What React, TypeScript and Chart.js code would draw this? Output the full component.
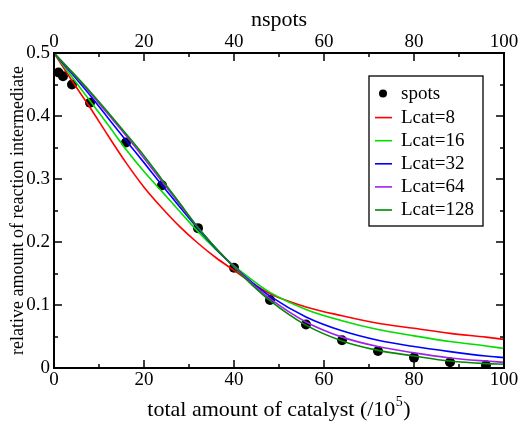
import React, { useEffect, useRef } from 'react';
import { Chart, registerables } from 'chart.js';

Chart.register(...registerables);

const SERIF = '"Liberation Serif", "Times New Roman", Times, serif';

// spots (simulation points)
const SPOT_X = [1, 2, 4, 8, 16, 24, 32, 40, 48, 56, 64, 72, 80, 88, 96];
const SPOT_Y = [0.469, 0.463, 0.45, 0.421, 0.358, 0.29, 0.222, 0.159, 0.108, 0.069, 0.044, 0.027, 0.0165, 0.009, 0.0045];

// model curves
const CURVE_X = [0, 4, 8, 12, 16, 20, 24, 28, 32, 36, 40, 44, 48, 56, 64, 72, 80, 88, 96, 100];
const LCAT8 = [0.5, 0.456, 0.4135, 0.369, 0.326, 0.287, 0.254, 0.224, 0.198, 0.175, 0.155, 0.135, 0.118, 0.097, 0.083, 0.071, 0.063, 0.055, 0.049, 0.0455];
const LCAT16 = [0.5, 0.462, 0.424, 0.386, 0.347, 0.312, 0.28, 0.248, 0.2165, 0.188, 0.162, 0.14, 0.12, 0.093, 0.075, 0.061, 0.051, 0.042, 0.035, 0.031];
const LCAT32 = [0.5, 0.467, 0.433, 0.397, 0.361, 0.326, 0.29, 0.255, 0.221, 0.189, 0.161, 0.136, 0.114, 0.081, 0.059, 0.044, 0.034, 0.026, 0.019, 0.0165];
const LCAT64 = [0.5, 0.469, 0.437, 0.403, 0.369, 0.333, 0.296, 0.259, 0.223, 0.19, 0.161, 0.134, 0.11, 0.073, 0.049, 0.034, 0.024, 0.016, 0.011, 0.009];
const LCAT128 = [0.5, 0.47, 0.439, 0.406, 0.372, 0.337, 0.299, 0.261, 0.223, 0.19, 0.16, 0.132, 0.107, 0.068, 0.043, 0.028, 0.019, 0.011, 0.007, 0.006];

const SERIES_LABELS = ['spots', 'Lcat=8', 'Lcat=16', 'Lcat=32', 'Lcat=64', 'Lcat=128'];
const SERIES_COLORS = ['#000000', '#ff0000', '#00dd00', '#0000ff', '#a020f0', '#008b00'];

// axes
const X_MAJOR = [0, 20, 40, 60, 80, 100];
const X_MINOR = [10, 30, 50, 70, 90];
const X_TICK_LABELS = ['0', '20', '40', '60', '80', '100'];
const Y_MAJOR = [0, 0.1, 0.2, 0.3, 0.4, 0.5];
const Y_MINOR = [0.05, 0.15, 0.25, 0.35, 0.45];
const Y_TICK_LABELS = ['0', '0.1', '0.2', '0.3', '0.4', '0.5'];

const X_TITLE_MAIN = 'total amount of catalyst (/10';
const X_TITLE_SUP = '5';
const X_TITLE_END = ')';
const X2_TITLE = 'nspots';
const Y_TITLE = 'relative amount of reaction intermediate';

const zip = (xs: number[], ys: number[]) => xs.map((x, i) => ({ x, y: ys[i] }));

const framePlugin = {
  id: 'frameAndLegend',
  afterDraw(chart: any) {
    const { ctx, chartArea } = chart;
    const { left, right, top, bottom } = chartArea;
    const xs = chart.scales.x;
    const ys = chart.scales.y;
    ctx.save();
    ctx.strokeStyle = '#000';
    ctx.lineWidth = 2;
    ctx.strokeRect(left, top, right - left, bottom - top);
    ctx.lineWidth = 1.5;
    const seg = (x1: number, y1: number, x2: number, y2: number) => {
      ctx.beginPath();
      ctx.moveTo(x1, y1);
      ctx.lineTo(x2, y2);
      ctx.stroke();
    };
    const xt = (v: number, len: number) => {
      const p = Math.round(xs.getPixelForValue(v));
      seg(p, bottom, p, bottom - len);
      seg(p, top, p, top + len);
    };
    const yt = (v: number, len: number) => {
      const p = Math.round(ys.getPixelForValue(v));
      seg(left, p, left + len, p);
      seg(right, p, right - len, p);
    };
    X_MAJOR.forEach((v) => xt(v, 8));
    X_MINOR.forEach((v) => xt(v, 4));
    Y_MAJOR.forEach((v) => yt(v, 8));
    Y_MINOR.forEach((v) => yt(v, 4));

    // bottom axis title with superscript
    ctx.fillStyle = '#000';
    ctx.textBaseline = 'alphabetic';
    ctx.textAlign = 'left';
    const mainFont = `22px ${SERIF}`;
    const supFont = `14px ${SERIF}`;
    ctx.font = mainFont;
    const w1 = ctx.measureText(X_TITLE_MAIN).width;
    const w3 = ctx.measureText(X_TITLE_END).width;
    ctx.font = supFont;
    const w2 = ctx.measureText(X_TITLE_SUP).width;
    const total = w1 + w2 + w3 + 1;
    const cx = (left + right) / 2;
    const base = bottom + 48;
    let tx = cx - total / 2;
    ctx.font = mainFont;
    ctx.fillText(X_TITLE_MAIN, tx, base);
    tx += w1 + 0.5;
    ctx.font = supFont;
    ctx.fillText(X_TITLE_SUP, tx, base - 10.5);
    tx += w2 + 0.5;
    ctx.font = mainFont;
    ctx.fillText(X_TITLE_END, tx, base);

    // legend
    const lx = left + 315;
    const ly = top + 23;
    const lw = 114;
    const lh = 150;
    ctx.fillStyle = '#fff';
    ctx.fillRect(lx, ly, lw, lh);
    ctx.lineWidth = 1.3;
    ctx.strokeStyle = '#000';
    ctx.strokeRect(lx, ly, lw, lh);
    ctx.font = `19px ${SERIF}`;
    ctx.textBaseline = 'middle';
    ctx.textAlign = 'left';
    chart.data.datasets.forEach((ds: any, i: number) => {
      const cy = ly + 18.5 + i * 23.1;
      if (ds.showLine === false) {
        ctx.fillStyle = ds.backgroundColor;
        ctx.beginPath();
        ctx.arc(lx + 14, cy - 1, 4, 0, Math.PI * 2);
        ctx.fill();
      } else {
        ctx.strokeStyle = ds.borderColor;
        ctx.lineWidth = 1.6;
        seg(lx + 6, cy, lx + 23, cy);
      }
      ctx.fillStyle = '#000';
      ctx.fillText(ds.label, lx + 32, cy);
    });
    ctx.restore();
  },
};

export default function App() {
  const ref = useRef<HTMLCanvasElement | null>(null);
  useEffect(() => {
    if (!ref.current) return;
    const curves = [LCAT8, LCAT16, LCAT32, LCAT64, LCAT128];
    const datasets: any[] = [
      {
        label: SERIES_LABELS[0],
        data: zip(SPOT_X, SPOT_Y),
        showLine: false,
        pointRadius: 5,
        pointBackgroundColor: SERIES_COLORS[0],
        pointBorderWidth: 0,
        backgroundColor: SERIES_COLORS[0],
        borderColor: SERIES_COLORS[0],
        order: 10,
      },
      ...curves.map((c, i) => ({
        label: SERIES_LABELS[i + 1],
        data: zip(CURVE_X, c),
        showLine: true,
        pointRadius: 0,
        borderWidth: 1.6,
        borderColor: SERIES_COLORS[i + 1],
        backgroundColor: SERIES_COLORS[i + 1],
        cubicInterpolationMode: 'monotone',
        fill: false,
        order: 5 - i,
      })),
    ];
    const tickFont = { family: SERIF, size: 19, lineHeight: 1 };
    const chart = new Chart(ref.current, {
      type: 'scatter',
      data: { datasets },
      plugins: [framePlugin],
      options: {
        animation: false,
        responsive: false,
        devicePixelRatio: 1,
        layout: { padding: { left: 0, right: 17, top: 0, bottom: 0 } },
        plugins: { legend: { display: false }, tooltip: { enabled: false } },
        scales: {
          x: {
            type: 'linear',
            position: 'bottom',
            min: 0,
            max: 100,
            afterBuildTicks: (s: any) => {
              s.ticks = X_MAJOR.map((v) => ({ value: v }));
            },
            afterFit: (s: any) => {
              s.height = 53;
            },
            grid: { display: false, drawTicks: false },
            border: { display: false },
            ticks: {
              font: tickFont,
              color: '#000',
              padding: 2.5,
              maxRotation: 0,
              autoSkip: false,
              callback: (_v: any, i: number) => X_TICK_LABELS[i],
            },
            title: { display: false },
          },
          x2: {
            type: 'linear',
            position: 'top',
            min: 0,
            max: 100,
            afterBuildTicks: (s: any) => {
              s.ticks = X_MAJOR.map((v) => ({ value: v }));
            },
            afterFit: (s: any) => {
              s.height = 53;
            },
            grid: { display: false, drawTicks: false },
            border: { display: false },
            ticks: {
              font: tickFont,
              color: '#000',
              padding: 1,
              maxRotation: 0,
              autoSkip: false,
              callback: (_v: any, i: number) => X_TICK_LABELS[i],
            },
            title: {
              display: true,
              text: X2_TITLE,
              color: '#000',
              font: { family: SERIF, size: 22, lineHeight: 1.2 },
              padding: { top: 7, bottom: 0 },
            },
          },
          y: {
            type: 'linear',
            position: 'left',
            min: 0,
            max: 0.5,
            afterBuildTicks: (s: any) => {
              s.ticks = Y_MAJOR.map((v) => ({ value: v }));
            },
            afterFit: (s: any) => {
              s.width = 54;
            },
            grid: { display: false, drawTicks: false },
            border: { display: false },
            ticks: {
              font: tickFont,
              color: '#000',
              padding: 4,
              autoSkip: false,
              callback: (_v: any, i: number) => Y_TICK_LABELS[i],
            },
            title: {
              display: true,
              text: Y_TITLE,
              color: '#000',
              font: { family: SERIF, size: 18, lineHeight: 1.2 },
              padding: { top: 7, bottom: 0 },
            },
          },
        },
      } as any,
    });
    return () => chart.destroy();
  }, []);
  return (
    <div style={{ position: 'absolute', left: 0, top: 0, width: 521, height: 421, background: '#fff' }}>
      <canvas ref={ref} width={521} height={421} style={{ display: 'block' }} />
    </div>
  );
}
